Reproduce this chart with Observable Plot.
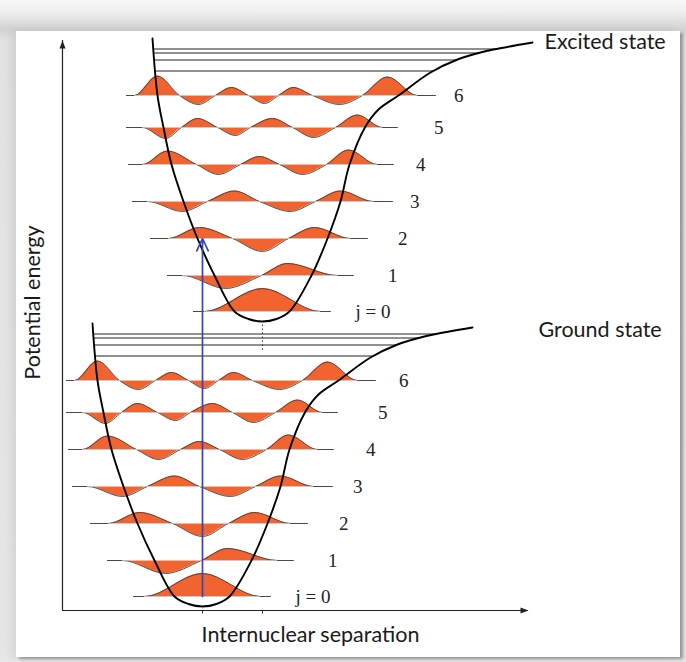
<!DOCTYPE html>
<html><head><meta charset="utf-8">
<script src="https://cdn.jsdelivr.net/npm/d3@7"></script>
<script src="https://cdn.jsdelivr.net/npm/@observablehq/plot@0.6"></script>
<style>
html,body{margin:0;padding:0;}
body{width:686px;height:662px;position:relative;overflow:hidden;
 background:linear-gradient(to bottom,#f8f8f8 0px,#efefef 12px,#d2d2d2 29px,#e2e2e2 40px,#e6e6e6 100%);}
#card{position:absolute;left:16px;top:31px;width:664px;height:626px;background:#fff;
 box-shadow:3px 2px 3px rgba(0,0,0,0.35),-5px 0 8px rgba(0,0,0,0.07);}
#chart{position:absolute;left:0;top:0;}
</style></head>
<body><div id="card"></div><div id="chart"></div>
<script>
// Ground-state potential curve samples (separation, energy)
const wellR = [0.60,0.70,0.82,0.98,1.22,1.50,1.84,2.24,2.52,2.80,3.08,3.34,3.78,4.10,4.36,4.54,4.86,5.12,5.52,6.16,6.70,7.16,7.42,8.20];
const wellV = [5.74,4.60,3.96,3.22,2.48,1.74,1.00,0.28,0.13,0.08,0.13,0.28,1.00,1.74,2.48,3.22,3.98,4.32,4.60,5.06,5.32,5.46,5.52,5.66];
const wellCenter = 2.80;
// Vibrational levels
const levels = [0,1,2,3,4,5,6];
const levelText = ["j = 0","1","2","3","4","5","6"];
const levelE = [0.28,1.00,1.74,2.48,3.22,3.96,4.60];
const topLineE = [5.09,5.31,5.45,5.53];
// Wavefunction knots: offset from well centre, amplitude
const psiR = [
 [-1.38,-1.16,0,1.16,1.36],
 [-1.90,-1.60,-0.74,-0.02,0.50,1.50,1.82],
 [-2.24,-1.88,-1.26,-0.60,0,0.52,1.04,1.76,2.10],
 [-2.60,-2.30,-1.60,-1.10,-0.56,-0.06,0.56,1.06,1.56,2.22,2.60],
 [-2.68,-2.40,-1.90,-1.32,-0.88,-0.44,-0.06,0.34,0.80,1.28,1.72,2.30,2.62],
 [-2.72,-2.40,-1.94,-1.62,-1.30,-0.90,-0.54,-0.24,0.20,0.60,1.02,1.46,1.90,2.40,2.70],
 [-2.72,-2.56,-2.10,-1.66,-1.28,-0.94,-0.62,-0.28,0.04,0.32,0.62,1.00,1.54,2.00,2.50,3.10,3.46]
];
const psiA = [
 [0,0,0.46,0,0],
 [0,0,-0.26,0,0.24,0,0],
 [0,0,0.22,0,-0.26,0,0.22,0,0],
 [0,0,-0.20,0,0.21,0,-0.20,0,0.21,0,0],
 [0,0,0.27,0,-0.20,0,0.16,0,-0.20,0,0.29,0,0],
 [0,0,-0.22,0,0.18,0,-0.16,0,0.18,0,-0.20,0,0.25,0,0],
 [0,0,0.39,0,-0.18,0,0.16,0,-0.16,0,0.16,0,-0.18,0,0.37,0,0]
];
const groundLabelR = [5.36,5.50,5.72,6.00,6.26,6.50,6.92];
const excitedLabelR = [6.56,6.70,6.90,7.14,7.26,7.62,8.02];
const states = ["Ground state","Excited state"];
const stateShiftR = [0, 1.2];
const stateShiftV = [0, 5.7];
const transitionFrom = 0, transitionTo = 2;
const axisMaxR = 9.32, axisMaxV = 11.4;

const iMin = wellV.indexOf(d3.min(wellV));
function crossing(V, side) {
  const idx = side < 0 ? d3.range(iMin, 0, -1) : d3.range(iMin, wellR.length - 1);
  for (const i of idx) {
    const i2 = side < 0 ? i - 1 : i + 1;
    const v1 = wellV[i], v2 = wellV[i2];
    if ((V - v1) * (V - v2) <= 0) {
      const t = (V - v1) / (v2 - v1);
      return wellR[i] + t * (wellR[i2] - wellR[i]);
    }
  }
  return side < 0 ? wellR[0] : wellR[wellR.length - 1];
}

const wellPts = [], psiPts = [], levelRows = [], topRows = [], labelRows = [];
states.forEach((s, si) => {
  wellR.forEach((r, k) => wellPts.push({state: si, r: r + stateShiftR[si], v: wellV[k] + stateShiftV[si]}));
  levels.forEach(j => {
    const E = levelE[j] + stateShiftV[si];
    const rs = psiR[j].map(r => wellCenter + r + stateShiftR[si]);
    rs.forEach((r, k) => psiPts.push({key: si * 10 + j, r, E, v: E + psiA[j][k]}));
    levelRows.push({E, r1: rs[0], r2: rs[rs.length - 1], f1: rs[1], f2: rs[rs.length - 2]});
    labelRows.push({E, r: (si ? excitedLabelR : groundLabelR)[j], t: levelText[j]});
  });
  topLineE.forEach(V => topRows.push({E: V + stateShiftV[si],
    r1: crossing(V, -1) + stateShiftR[si], r2: crossing(V, 1) + stateShiftR[si]}));
});

const upHead = {draw(ctx) { ctx.moveTo(0, 0); ctx.lineTo(3, 8); ctx.lineTo(-3, 8); ctx.closePath(); }};
const rightHead = {draw(ctx) { ctx.moveTo(0, 0); ctx.lineTo(-8, 3); ctx.lineTo(-8, -3); ctx.closePath(); }};

const sans = "Lato, 'Open Sans', sans-serif";
const serif = "'Liberation Serif', 'DejaVu Serif', serif";

const plot = Plot.plot({
  width: 686, height: 662,
  marginLeft: 62, marginRight: 158, marginTop: 40, marginBottom: 52,
  style: {background: "transparent", overflow: "visible"},
  x: {domain: [0, axisMaxR], axis: null},
  y: {domain: [0, axisMaxV], axis: null},
  marks: [
    // axes
    Plot.ruleX([0], {y1: 0, y2: axisMaxV, stroke: "#222", strokeWidth: 1.2}),
    Plot.ruleY([0], {x1: 0, x2: axisMaxR, stroke: "#222", strokeWidth: 1.2}),
    Plot.dot([0], {x: 0, y: axisMaxV, symbol: upHead, fill: "#222", stroke: "none"}),
    Plot.dot([0], {x: axisMaxR, y: 0, symbol: rightHead, fill: "#222", stroke: "none"}),
    Plot.ruleX([wellCenter, wellCenter + stateShiftR[1]], {y1: 0, y2: -0.07, stroke: "#333"}),
    Plot.ruleX([wellCenter + stateShiftR[1]], {y1: 5.2, y2: d3.min(wellV) + stateShiftV[1], stroke: "#333", strokeDasharray: "1.5,2.5"}),
    // top levels near dissociation
    Plot.ruleY(topRows, {y: "E", x1: "r1", x2: "r2", stroke: "#222", strokeWidth: 1}),
    // vibrational level baselines
    Plot.ruleY(levelRows, {y: "E", x1: "r1", x2: "r2", stroke: "#8c8c8c", strokeWidth: 1}),
    // wavefunctions
    Plot.areaY(psiPts, {x: "r", y1: "E", y2: "v", z: "key", fill: "#f1632f", curve: "monotone-x"}),
    Plot.line(psiPts, {x: "r", y: "v", z: "key", stroke: "#4a3e3a", strokeWidth: 0.9, curve: "monotone-x"}),
    Plot.ruleY(levelRows, {y: "E", x1: "f1", x2: "f2", stroke: "white", strokeOpacity: 0.55, strokeWidth: 1}),
    // potential curves
    Plot.line(wellPts, {x: "r", y: "v", z: "state", stroke: "#000", strokeWidth: 1.9, curve: "catmull-rom"}),
    // transition arrow
    Plot.arrow([0], {x1: () => wellCenter, x2: () => wellCenter,
      y1: () => levelE[transitionFrom], y2: () => levelE[transitionTo] + stateShiftV[1],
      stroke: "#3a44b5", strokeWidth: 1.7, headLength: 12, headAngle: 50}),
    // level labels
    Plot.text(labelRows, {x: "r", y: "E", text: "t", textAnchor: "end", fontFamily: serif, fontSize: 19, fill: "#222"}),
    // state labels
    Plot.text([states[1]], {x: () => wellR[wellR.length - 1] + stateShiftR[1], y: () => wellV[wellV.length - 1] + stateShiftV[1],
      dx: 12, textAnchor: "start", fontFamily: sans, fontSize: 21.5, fill: "#1a1a1a"}),
    Plot.text([states[0]], {x: () => wellR[wellR.length - 1], y: () => wellV[wellV.length - 1],
      dx: 66, dy: 3, textAnchor: "start", fontFamily: sans, fontSize: 21.5, fill: "#1a1a1a"}),
    // axis titles
    Plot.text(["Potential energy"], {frameAnchor: "left", textAnchor: "middle", lineAnchor: "middle", rotate: -90, dx: -29, dy: -23, fontFamily: sans, fontSize: 21.5, fill: "#1a1a1a"}),
    Plot.text(["Internuclear separation"], {frameAnchor: "bottom", textAnchor: "middle", lineAnchor: "middle", dx: 15, dy: 25, fontFamily: sans, fontSize: 21.5, fill: "#1a1a1a"})
  ]
});
document.getElementById("chart").appendChild(plot);
</script></body></html>
